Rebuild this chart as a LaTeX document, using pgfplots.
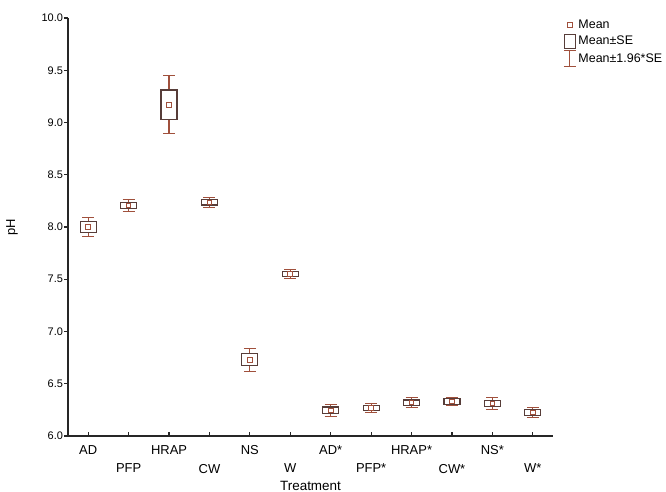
\documentclass[border=0pt]{standalone}
\usepackage{fontspec}
\setmainfont{Liberation Sans}
\usepackage{pgfplots}
\usepackage{pgfplotstable}
\pgfplotsset{compat=1.18}
\definecolor{boxc}{HTML}{573D39}
\definecolor{whisk}{HTML}{A0503C}
% x: position, m: mean, se: standard error, ci: 1.96*SE
\pgfplotstableread{
x  m      se     ci
0  8.000  0.050  0.090
1  8.205  0.030  0.055
2  9.170  0.142  0.277
3  8.235  0.025  0.045
4  6.730  0.056  0.110
5  7.550  0.025  0.045
6  6.245  0.033  0.055
7  6.270  0.025  0.045
8  6.320  0.025  0.046
9  6.330  0.025  0.042
10 6.310  0.030  0.055
11 6.225  0.030  0.050
}\datatable
\begin{document}
\begin{tikzpicture}
\begin{axis}[
  at={(68bp,56bp)}, anchor=south west,
  scale only axis, width=485bp, height=418bp,
  xmin=-0.5, xmax=11.5, ymin=6, ymax=10,
  clip=false,
  axis x line*=bottom, axis y line*=left,
  axis line style={line width=1.1bp, black!85, -},
  tick align=inside, major tick length=4bp,
  every tick/.style={black!85, line width=1.1bp},
  every y tick/.append style={xshift=-4bp},
  xtick={0,2,4,6,8,10},
  xticklabels={AD,HRAP,NS,AD*,HRAP*,NS*},
  extra x ticks={1,3,5,7,9,11},
  extra x tick labels={PFP,CW,W,PFP*,CW*,W*},
  extra x tick style={xticklabel style={yshift=-18.5bp}},
  xticklabel style={font=\fontsize{13}{15}\selectfont, yshift=-6bp},
  ytick={6,6.5,7,7.5,8,8.5,9,9.5,10},
  yticklabel style={font=\fontsize{11}{13}\selectfont, xshift=-1.5bp,
    /pgf/number format/fixed, /pgf/number format/fixed zerofill,
    /pgf/number format/precision=1, /pgf/number format/assume math mode=true},
  xlabel={Treatment}, ylabel={pH},
  every axis x label/.style={at={(axis description cs:0.5,-0.1196)}, anchor=center, font=\fontsize{13.5}{15}\selectfont},
  every axis y label/.style={at={(axis description cs:-0.1155,0.5)}, rotate=90, anchor=center, font=\fontsize{13}{15}\selectfont},
  legend style={at={(1.021,1.0)}, anchor=north west, draw=none, fill=none,
    font=\fontsize{12.5}{14}\selectfont, row sep=1.5bp, inner sep=0pt},
  legend cell align=left,
]
\addlegendimage{legend image code/.code={\draw[whisk, line width=1bp] (3.7bp,-2.3bp) rectangle (8.3bp,2.3bp);}}
\addlegendentry{Mean}
\addlegendimage{legend image code/.code={\draw[boxc, line width=1.1bp] (0.5bp,-7bp) rectangle (11.5bp,7bp);}}
\addlegendentry{Mean±SE}
\addlegendimage{legend image code/.code={\draw[whisk, line width=1.1bp] (0bp,-8bp)--(12bp,-8bp) (6bp,-8bp)--(6bp,8bp) (0bp,8bp)--(12bp,8bp);}}
\addlegendentry{Mean±1.96*SE}

% one glyph per treatment: whisker (mean +- 1.96 SE), box (mean +- SE), mean square
% (104.5 bp per pH unit: 418bp / 4)
\addplot[forget plot, scatter, only marks, mark=square, mark size=2.3bp,
  point meta=y,
  scatter/use mapped color={draw=whisk},
  mark options={line width=1bp},
  visualization depends on={104.5*\thisrow{se} \as \seH},
  visualization depends on={104.5*\thisrow{ci} \as \ciH},
  scatter/@pre marker code/.append code={%
    \draw[whisk, line width=1.1bp] (0bp,-\ciH pt) -- (0bp,\ciH pt)
      (-6bp,-\ciH pt) -- (6bp,-\ciH pt) (-6bp,\ciH pt) -- (6bp,\ciH pt);
    \draw[boxc, line width=1.1bp, fill=white] (-8bp,-\seH pt) rectangle (8bp,\seH pt);
  }]
  table[x=x, y=m] {\datatable};
\end{axis}
\pgfresetboundingbox
\path[use as bounding box] (0,0) rectangle (666bp,492bp);
\end{tikzpicture}
\end{document}
